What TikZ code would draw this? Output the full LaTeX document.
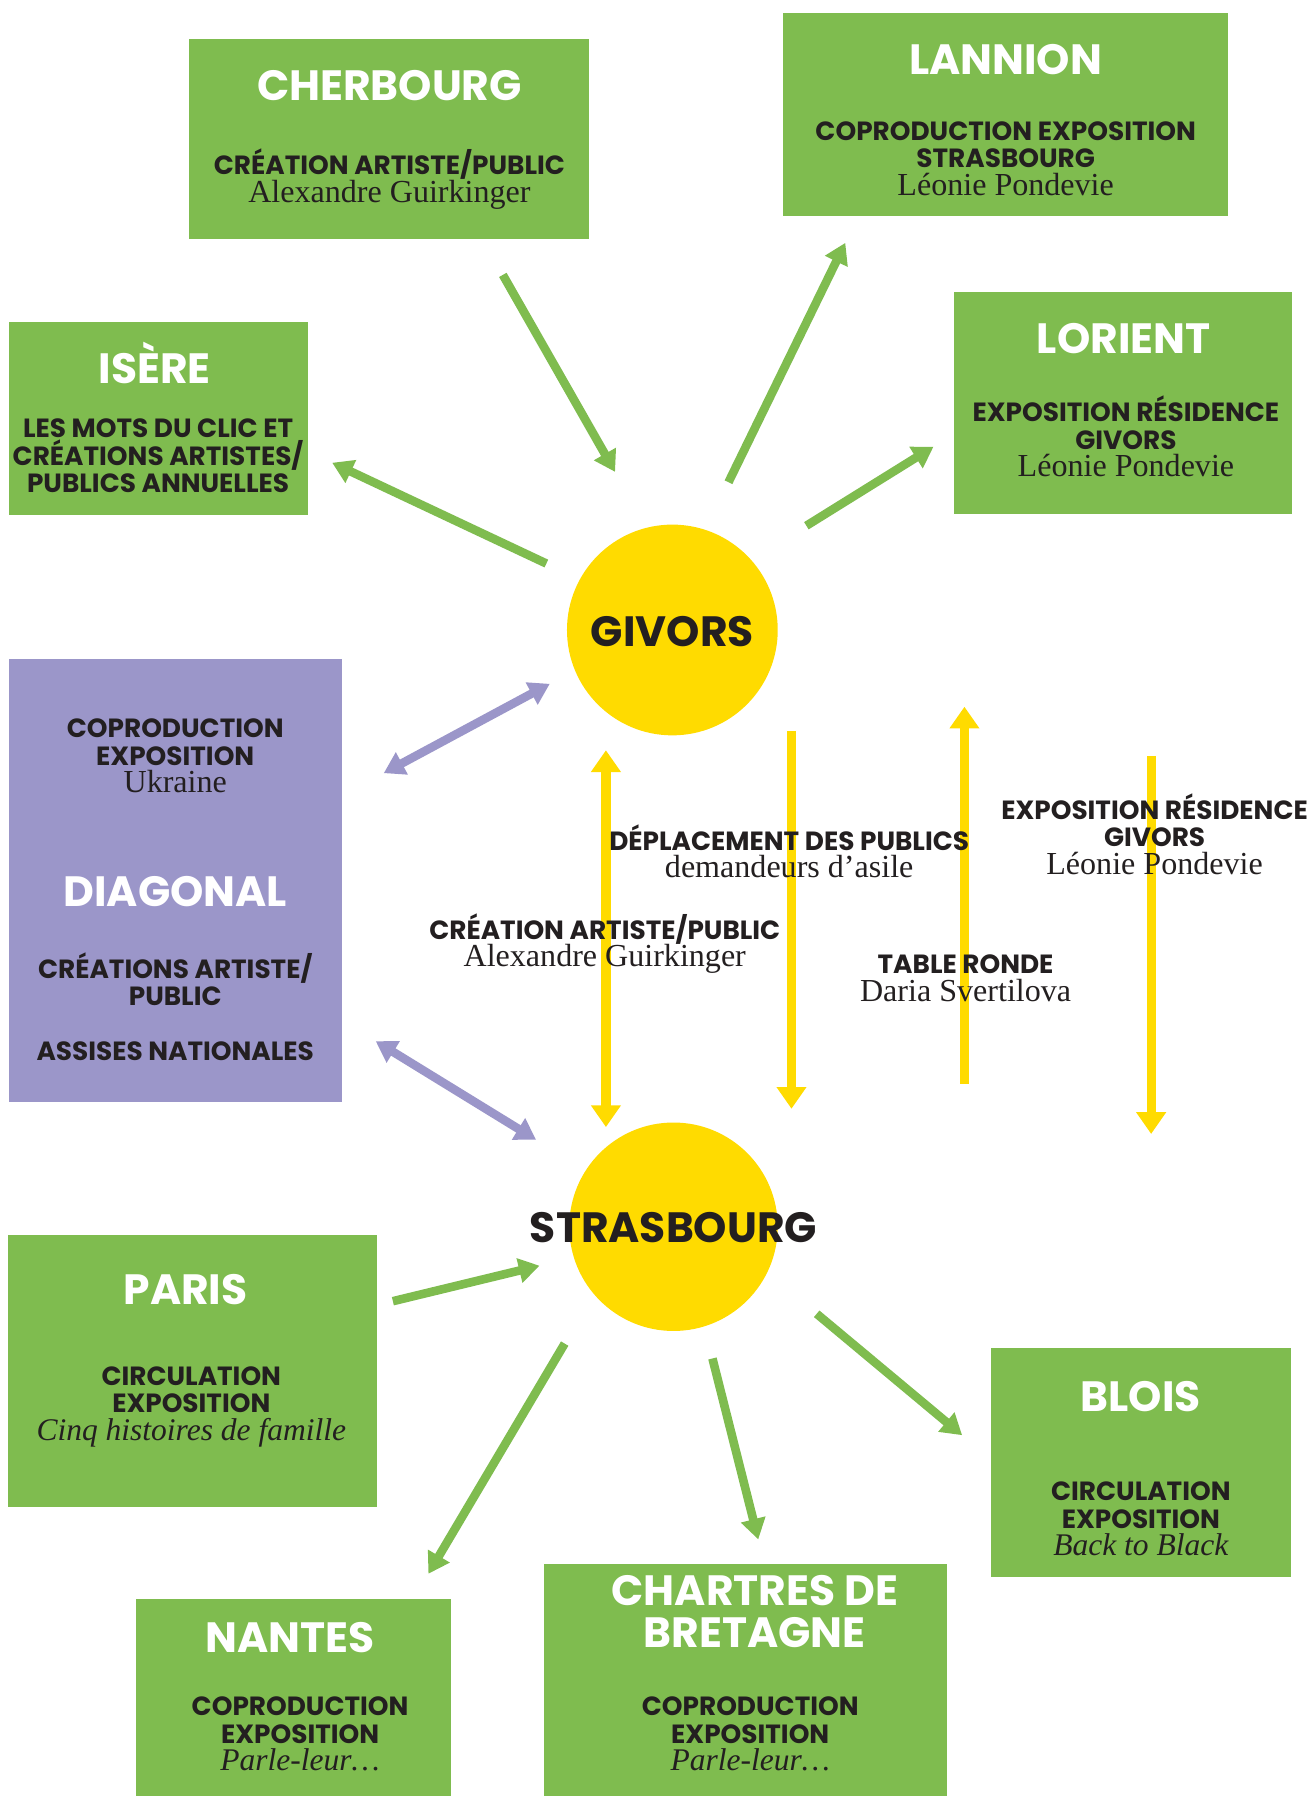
\documentclass[tikz,border=0pt]{standalone}
\usepackage{fontspec}
\setsansfont{Poppins}
\setmainfont{Liberation Serif}
\usetikzlibrary{arrows.meta}
\definecolor{gr}{HTML}{7FBC4F}
\definecolor{yl}{HTML}{FFDB00}
\definecolor{pu}{HTML}{9B96C9}
\definecolor{tx}{HTML}{231F20}
\newcommand\srf{\rmfamily\mdseries\upshape\fontsize{28}{24}\selectfont}
\newcommand\srfi{\rmfamily\mdseries\itshape\fontsize{27.5}{24}\selectfont}
\begin{document}
\begin{tikzpicture}[x=1pt,y=-1pt,
  gbox/.style={fill=gr, draw=none, inner sep=0pt},
  pbox/.style={fill=pu, draw=none, inner sep=0pt},
  ycirc/.style={circle, fill=yl, draw=none, inner sep=0pt},
  ttl/.style={text=white, font=\sffamily\bfseries\fontsize{37}{37}\selectfont, inner sep=0pt, align=center},
  ctl/.style={text=tx, font=\sffamily\bfseries\fontsize{37}{37}\selectfont, inner sep=0pt},
  body/.style={text=tx, font=\sffamily\bfseries\fontsize{23}{24}\selectfont, inner sep=0pt, align=center},
  garrow/.style={draw=gr, line width=7.5pt, -{Triangle[width=21pt,length=18pt]}},
  parrow/.style={draw=pu, line width=7.5pt, {Triangle[width=21pt,length=18pt]}-{Triangle[width=21pt,length=18pt]}},
  yarrow/.style={draw=yl, line width=8pt, -{Triangle[width=25pt,length=19pt]}},
  yarrowb/.style={draw=yl, line width=8pt, {Triangle[width=25pt,length=19pt]}-{Triangle[width=25pt,length=19pt]}}
]
\useasboundingbox (0,0) rectangle (1146,1568);

% boxes
\node[gbox, minimum width=349pt, minimum height=175pt] (cherbox) at (339.5,121.5) {};
\node[gbox, minimum width=388pt, minimum height=178pt] (lannbox) at (878,100) {};
\node[gbox, minimum width=261pt, minimum height=169pt] (iserebox) at (138.5,365.5) {};
\node[gbox, minimum width=295pt, minimum height=194pt] (loribox) at (980.5,352) {};
\node[pbox, minimum width=291pt, minimum height=387pt] (diagbox) at (153.5,768.5) {};
\node[gbox, minimum width=322pt, minimum height=238pt] (parisbox) at (168,1197) {};
\node[gbox, minimum width=275pt, minimum height=172pt] (nantesbox) at (256.5,1482) {};
\node[gbox, minimum width=352pt, minimum height=203pt] (chartbox) at (651,1466.5) {};
\node[gbox, minimum width=262pt, minimum height=200pt] (bloisbox) at (996,1277) {};

% circles
\node[ycirc, minimum size=184pt] (givors) at (587,550) {};
\node[ycirc, minimum size=182pt] (stras) at (588,1071) {};

% arrow end points
\coordinate (c1s) at (439,240); \coordinate (c1e) at (537,412);
\coordinate (c2s) at (477,492); \coordinate (c2e) at (290,404);
\coordinate (c3s) at (636,421); \coordinate (c3e) at (738,212);
\coordinate (c4s) at (704,459); \coordinate (c4e) at (815,390);
\coordinate (c5s) at (343,1136); \coordinate (c5e) at (471,1105);
\coordinate (c6s) at (493,1173); \coordinate (c6e) at (374,1374);
\coordinate (c7s) at (622,1186); \coordinate (c7e) at (662,1344);
\coordinate (c8s) at (713,1147); \coordinate (c8e) at (840,1253);
\coordinate (p1s) at (335,675); \coordinate (p1e) at (480,597);
\coordinate (p2s) at (328,909); \coordinate (p2e) at (468,995);
\coordinate (y1s) at (529,655); \coordinate (y1e) at (529,984);
\coordinate (y2s) at (691,638); \coordinate (y2e) at (691,968);
\coordinate (y3s) at (842,946); \coordinate (y3e) at (842,617);
\coordinate (y4s) at (1005,660); \coordinate (y4e) at (1005,990);

\draw[garrow] (c1s) -- (c1e);
\draw[garrow] (c2s) -- (c2e);
\draw[garrow] (c3s) -- (c3e);
\draw[garrow] (c4s) -- (c4e);
\draw[garrow] (c5s) -- (c5e);
\draw[garrow] (c6s) -- (c6e);
\draw[garrow] (c7s) -- (c7e);
\draw[garrow] (c8s) -- (c8e);
\draw[parrow] (p1s) -- (p1e);
\draw[parrow] (p2s) -- (p2e);
\draw[yarrowb] (y1s) -- (y1e);
\draw[yarrow] (y2s) -- (y2e);
\draw[yarrow] (y3s) -- (y3e);
\draw[yarrow] (y4s) -- (y4e);

% box texts
\node[ttl] (chert) at (340,75) {CHERBOURG};
\node[body] (cherb) at (340,156.5) {CRÉATION ARTISTE/PUBLIC\\{\srf Alexandre Guirkinger}};
\node[ttl] (lannt) at (878,52) {LANNION};
\node[body] (lannb) at (878,138.5) {COPRODUCTION EXPOSITION\\STRASBOURG\\{\srf Léonie Pondevie}};
\node[ttl] (iseret) at (135,317) {ISÈRE};
\node[body] (isereb) at (138,398) {LES MOTS DU CLIC ET\\CRÉATIONS ARTISTES/\\PUBLICS ANNUELLES};
\node[ttl] (lorit) at (981,296) {LORIENT};
\node[body] (lorib) at (983,381) {EXPOSITION RÉSIDENCE\\GIVORS\\{\srf Léonie Pondevie}};
\node[body] (diagb1) at (153,660) {COPRODUCTION\\EXPOSITION\\{\srf Ukraine}};
\node[ttl] (diagt) at (153,778) {DIAGONAL};
\node[body] (diagb2) at (153,855) {CRÉATIONS ARTISTE/\\PUBLIC};
\node[body] (diagb3) at (153,918) {ASSISES NATIONALES};
\node[ttl] (parist) at (162,1126) {PARIS};
\node[body] (parisb) at (167,1228) {CIRCULATION\\EXPOSITION\\{\srfi Cinq histoires de famille}};
\node[ttl] (nantest) at (253,1430) {NANTES};
\node[body] (nantesb) at (262,1514) {COPRODUCTION\\EXPOSITION\\{\srfi Parle-leur…}};
\node[ttl] (chartt) at (659,1407) {CHARTRES DE\\BRETAGNE};
\node[body] (chartb) at (655,1514) {COPRODUCTION\\EXPOSITION\\{\srfi Parle-leur…}};
\node[ttl] (bloist) at (996,1219) {BLOIS};
\node[body] (bloisb) at (996,1326) {CIRCULATION\\EXPOSITION\\{\srfi Back to Black}};

% circle labels
\node[ctl] (givorst) at (587,551) {GIVORS};
\node[ctl] (strast) at (588,1072) {STRASBOURG};

% free labels
\node[body] (depl) at (689,743) {DÉPLACEMENT DES PUBLICS\\{\srf demandeurs d’asile}};
\node[body] (expo) at (1008,728) {EXPOSITION RÉSIDENCE\\GIVORS\\{\srf Léonie Pondevie}};
\node[body] (crea) at (528,824) {CRÉATION ARTISTE/PUBLIC\\{\srf Alexandre Guirkinger}};
\node[body] (table) at (843,854) {TABLE RONDE\\{\srf Daria Svertilova}};
\end{tikzpicture}
\end{document}
